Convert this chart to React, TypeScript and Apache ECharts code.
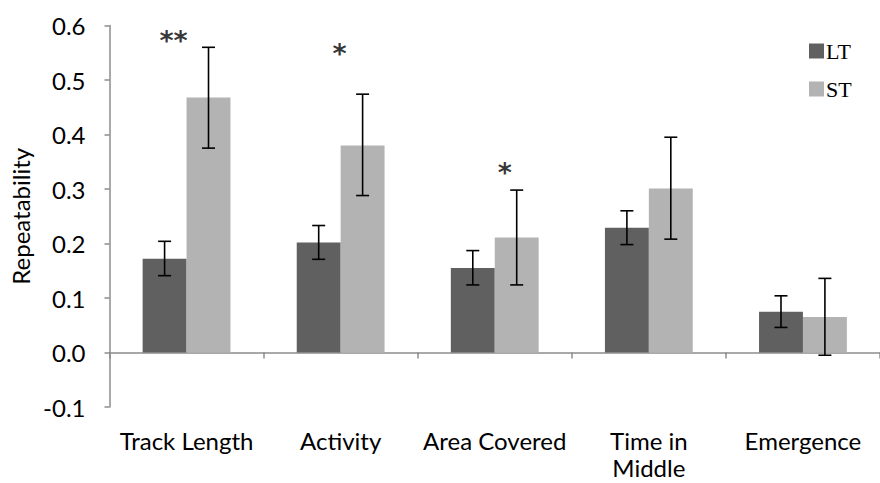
import React, { useEffect, useRef } from "react";
import * as echarts from "echarts";

const categories = ["Track Length", "Activity", "Area Covered", "Time in\nMiddle", "Emergence"];
const ltValues = [0.172, 0.202, 0.155, 0.229, 0.075];
const stValues = [0.468, 0.38, 0.211, 0.301, 0.065];
const ltLow = [0.141, 0.171, 0.124, 0.198, 0.046];
const ltHigh = [0.204, 0.233, 0.187, 0.26, 0.104];
const stLow = [0.375, 0.288, 0.124, 0.208, -0.005];
const stHigh = [0.56, 0.474, 0.298, 0.395, 0.136];
const yTicks = [-0.1, 0, 0.1, 0.2, 0.3, 0.4, 0.5, 0.6];
const annCats = [0, 1, 2];
const annTexts = ["**", "*", "*"];
const annY = [0.584, 0.56, 0.342];
const annOffsetX = [-13, -1, 10];

const LT_COLOR = "#606060";
const ST_COLOR = "#b3b3b3";
const AXIS_COLOR = "#8c8c8c";
const SANS = "Lato, 'Open Sans', sans-serif";
const SERIF = "'Liberation Serif', 'DejaVu Serif', serif";

export default function App() {
  const ref = useRef<HTMLDivElement>(null);
  useEffect(() => {
    if (!ref.current) return;
    const chart = echarts.init(ref.current, undefined, { renderer: "svg" });
    const errData = (low: number[], high: number[]) => low.map((l, i) => [i, l, high[i]]);
    const makeErr = (name: string, low: number[], high: number[], side: number) => ({
      type: "custom",
      name,
      xAxisIndex: 0,
      z: 5,
      silent: true,
      data: errData(low, high),
      encode: { x: 0, y: [1, 2] },
      renderItem: (params: any, api: any) => {
        const idx = api.value(0);
        const lo = api.coord([idx, api.value(1)]);
        const hi = api.coord([idx, api.value(2)]);
        const band = api.size([1, 0])[0];
        const x = lo[0] + side * band * 0.1425;
        const cap = 6.5;
        const style = { stroke: "#000", lineWidth: 1.6 };
        return {
          type: "group",
          children: [
            { type: "line", shape: { x1: x, y1: lo[1], x2: x, y2: hi[1] }, style },
            { type: "line", shape: { x1: x - cap, y1: hi[1], x2: x + cap, y2: hi[1] }, style },
            { type: "line", shape: { x1: x - cap, y1: lo[1], x2: x + cap, y2: lo[1] }, style },
          ],
        };
      },
    });
    chart.setOption({
      animation: false,
      backgroundColor: "#fff",
      grid: { left: 109.5, top: 25.5, bottom: 76, right: -12, containLabel: false },
      legend: {
        orient: "vertical",
        left: 804,
        top: 35,
        itemWidth: 15,
        itemHeight: 15,
        itemGap: 16,
        icon: "rect",
        data: ["LT", "ST"],
        textStyle: { fontFamily: SERIF, fontSize: 22, color: "#000", padding: [0, 0, 0, -3] },
      },
      xAxis: [
        {
          type: "category",
          data: categories,
          position: "bottom",
          axisLine: { show: false, onZero: false },
          axisTick: { show: false },
          axisLabel: {
            interval: 0,
            margin: 20,
            fontFamily: SANS,
            fontSize: 24,
            color: "#000",
            lineHeight: 27,
          },
        },
        {
          type: "category",
          data: categories,
          position: "bottom",
          axisLine: { show: true, onZero: true, lineStyle: { color: AXIS_COLOR, width: 1.5 } },
          axisTick: { show: true, length: 6, alignWithLabel: false, lineStyle: { color: AXIS_COLOR, width: 1.5 } },
          axisLabel: { show: false },
        },
      ],
      yAxis: {
        type: "value",
        min: -0.1,
        max: 0.6,
        interval: 0.1,
        name: "Repeatability",
        nameLocation: "middle",
        nameGap: 77,
        nameTextStyle: { fontFamily: SANS, fontSize: 24, color: "#000" },
        axisLine: { show: true, lineStyle: { color: AXIS_COLOR, width: 1.5 } },
        axisTick: { show: true, length: 5, lineStyle: { color: AXIS_COLOR, width: 1.5 } },
        splitLine: { show: false },
        axisLabel: {
          margin: 24,
          fontFamily: SANS,
          fontSize: 24,
          color: "#000",
          formatter: (v: number) => (yTicks.some((t) => Math.abs(t - v) < 1e-9) ? v.toFixed(1) : ""),
        },
      },
      series: [
        {
          type: "bar",
          name: "LT",
          data: ltValues,
          xAxisIndex: 0,
          barGap: "0%",
          barCategoryGap: "43%",
          itemStyle: { color: LT_COLOR },
        },
        {
          type: "bar",
          name: "ST",
          data: stValues,
          xAxisIndex: 0,
          barGap: "0%",
          barCategoryGap: "43%",
          itemStyle: { color: ST_COLOR },
        },
        makeErr("LTerr", ltLow, ltHigh, -1),
        makeErr("STerr", stLow, stHigh, 1),
        {
          type: "scatter",
          name: "ann",
          xAxisIndex: 0,
          symbolSize: 1,
          itemStyle: { color: "rgba(0,0,0,0)" },
          silent: true,
          z: 6,
          data: annCats.map((c, i) => ({
            value: [c, annY[i]],
            label: {
              show: true,
              position: "inside",
              offset: [annOffsetX[i], 6],
              formatter: annTexts[i],
              fontFamily: "'DejaVu Sans', sans-serif",
              fontWeight: "bold",
              fontSize: 27,
              color: "#000",
            },
          })),
        },
      ],
    });
    return () => chart.dispose();
  }, []);
  return (
    <div
      ref={ref}
      style={{ position: "absolute", left: 0, top: 0, width: 880, height: 483, overflow: "hidden" }}
    />
  );
}
